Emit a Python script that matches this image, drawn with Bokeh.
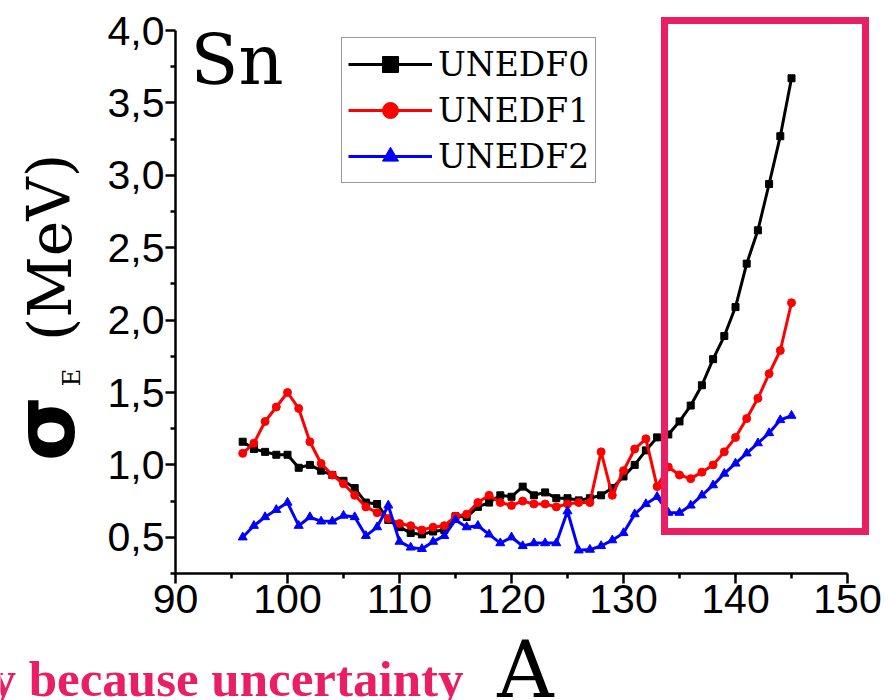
from bokeh.plotting import figure
from bokeh.models import (FixedTicker, CustomJSTickFormatter, Label, Range1d,
                          Legend, LegendItem, LinearAxis)
from bokeh.embed import file_html
from bokeh.resources import INLINE

# ---------------- data ----------------
mass_A = [96, 97, 98, 99, 100, 101, 102, 103, 104, 105,
          106, 107, 108, 109, 110, 111, 112, 113, 114, 115,
          116, 117, 118, 119, 120, 121, 122, 123, 124, 125,
          126, 127, 128, 129, 130, 131, 132, 133, 134, 135,
          136, 137, 138, 139, 140, 141, 142, 143, 144, 145]

unedf0 = [1.16, 1.11, 1.09, 1.07, 1.07, 0.98, 1.00, 0.96, 0.93, 0.89,
          0.84, 0.74, 0.73, 0.62, 0.57, 0.53, 0.52, 0.54, 0.55, 0.645,
          0.64, 0.71, 0.74, 0.79, 0.78, 0.85, 0.79, 0.81, 0.77, 0.77,
          0.755, 0.77, 0.79, 0.84, 0.92, 1.00, 1.10, 1.19, 1.21, 1.30,
          1.41, 1.55, 1.73, 1.89, 2.09, 2.39, 2.62, 2.94, 3.27, 3.67]

unedf1 = [1.08, 1.15, 1.30, 1.40, 1.50, 1.39, 1.16, 1.01, 0.93, 0.87,
          0.79, 0.71, 0.67, 0.63, 0.595, 0.58, 0.55, 0.57, 0.58, 0.645,
          0.66, 0.74, 0.79, 0.74, 0.72, 0.75, 0.73, 0.73, 0.71, 0.73,
          0.74, 0.74, 1.09, 0.79, 0.96, 1.11, 1.18, 0.85, 0.985, 0.93,
          0.905, 0.95, 1.00, 1.09, 1.19, 1.32, 1.46, 1.63, 1.79, 2.12]

unedf2 = [0.50, 0.58, 0.64, 0.69, 0.74, 0.58, 0.64, 0.61, 0.61, 0.65,
          0.64, 0.51, 0.57, 0.72, 0.47, 0.43, 0.42, 0.47, 0.51, 0.62,
          0.57, 0.58, 0.52, 0.46, 0.50, 0.44, 0.46, 0.46, 0.46, 0.68,
          0.41, 0.415, 0.44, 0.48, 0.53, 0.66, 0.73, 0.78, 0.67, 0.67,
          0.72, 0.79, 0.86, 0.94, 1.01, 1.08, 1.15, 1.22, 1.31, 1.34]

series_names = ["UNEDF0", "UNEDF1", "UNEDF2"]
x_major = [90, 100, 110, 120, 130, 140, 150]
x_minor = [95, 105, 115, 125, 135, 145]
y_major = [0.5, 1.0, 1.5, 2.0, 2.5, 3.0, 3.5, 4.0]
y_minor = [0.25, 0.75, 1.25, 1.75, 2.25, 2.75, 3.25, 3.75]
x_bounds = (90, 150)
y_bounds = (0.25, 4.0)

PINK = "#E91E63"

# ---------------- geometry: the frame fills the whole canvas ----------------
W, H = 889, 700
AX_L, AX_B = 175, 573          # pixel position of x=90 / y=0.25
PX_X, PX_Y = 11.2, 144.8       # pixels per data unit


def dx(px):  # picture pixel -> data x
    return x_bounds[0] + (px - AX_L) / PX_X


def dy(py):  # picture pixel -> data y
    return y_bounds[0] + (AX_B - py) / PX_Y


p = figure(width=W, height=H,
           x_range=Range1d(dx(0), dx(W)), y_range=Range1d(dy(H), dy(0)),
           x_axis_location=None, y_axis_location=None,
           output_backend="svg", toolbar_location=None, min_border=0)
p.outline_line_color = None
p.grid.visible = False
p.background_fill_color = "white"
p.border_fill_color = "white"

xaxis = LinearAxis(fixed_location=y_bounds[0], bounds=x_bounds,
                   ticker=FixedTicker(ticks=x_major, minor_ticks=x_minor))
yaxis = LinearAxis(fixed_location=x_bounds[0], bounds=y_bounds,
                   ticker=FixedTicker(ticks=y_major, minor_ticks=y_minor),
                   formatter=CustomJSTickFormatter(
                       code="return tick.toFixed(1).replace('.', ',');"))
for ax in (xaxis, yaxis):
    ax.axis_line_width = 2.5
    ax.axis_line_color = "black"
    ax.major_tick_line_width = 2.5
    ax.minor_tick_line_width = 2.5
    ax.major_tick_in = 0
    ax.major_tick_out = 10
    ax.minor_tick_in = 0
    ax.minor_tick_out = 5
    ax.major_label_text_font = "Liberation Sans"
    ax.major_label_text_font_size = "41px"
    ax.major_label_text_color = "black"
    ax.major_label_standoff = 1
p.add_layout(xaxis, "below")
p.add_layout(yaxis, "left")

# ---------------- series ----------------
l0 = p.line(mass_A, unedf0, line_color="black", line_width=3)
s0 = p.scatter(mass_A, unedf0, marker="square", size=7, color="black")
l1 = p.line(mass_A, unedf1, line_color="#FF0000", line_width=3)
s1 = p.scatter(mass_A, unedf1, marker="circle", size=8, color="#FF0000")
l2 = p.line(mass_A, unedf2, line_color="#0000FF", line_width=3)
s2 = p.scatter(mass_A, unedf2, marker="triangle", size=9, color="#0000FF")

legend = Legend(items=[LegendItem(label=series_names[0], renderers=[l0, s0]),
                       LegendItem(label=series_names[1], renderers=[l1, s1]),
                       LegendItem(label=series_names[2], renderers=[l2, s2])],
                location=(341, H - 183))
legend.label_text_font = "DejaVu Serif"
legend.label_text_font_size = "33px"
legend.label_text_color = "black"
legend.glyph_width = 84
legend.glyph_height = 40
legend.label_height = 40
legend.spacing = 6
legend.padding = 6
legend.margin = 0
legend.label_standoff = 6
legend.border_line_color = "#333333"
legend.border_line_width = 1.5
legend.background_fill_alpha = 1
p.add_layout(legend, "center")

# highlight rectangle (pink frame round the heavy isotopes)
p.quad(left=[dx(664)], right=[dx(865)], bottom=[dy(531)], top=[dy(20)],
       fill_color=None, line_color=PINK, line_width=7, line_join="miter")

# ---------------- texts ----------------
p.add_layout(Label(x=dx(190), y=dy(59), text="Sn", text_font="DejaVu Serif",
                   text_font_size="70px", text_color="black",
                   text_align="left", text_baseline="alphabetic"))

p.add_layout(Label(x=dx(525), y=dy(669), text="A", text_font="DejaVu Serif",
                   text_font_size="78px", text_color="black",
                   text_align="center", text_baseline="alphabetic"))

p.add_layout(Label(x=dx(44), y=dy(428), text="σ", text_font="DejaVu Sans",
                   text_font_size="84px", text_font_style="bold", text_color="black",
                   angle=1.5708, text_align="center", text_baseline="middle"))
p.add_layout(Label(x=dx(71), y=dy(377), text="E", text_font="DejaVu Serif",
                   text_font_size="24px", text_color="black",
                   angle=1.5708, text_align="center", text_baseline="middle"))
p.add_layout(Label(x=dx(49), y=dy(247), text="(MeV)", text_font="DejaVu Serif",
                   text_font_size="60px", text_color="black",
                   angle=1.5708, text_align="center", text_baseline="middle"))

p.add_layout(Label(x=dx(463), y=dy(678), text="y because uncertainty",
                   text_font="Liberation Serif", text_font_style="bold",
                   text_font_size="51px", text_color=PINK,
                   text_align="right", text_baseline="alphabetic"))

open("out.html", "w").write(file_html(p, INLINE))
